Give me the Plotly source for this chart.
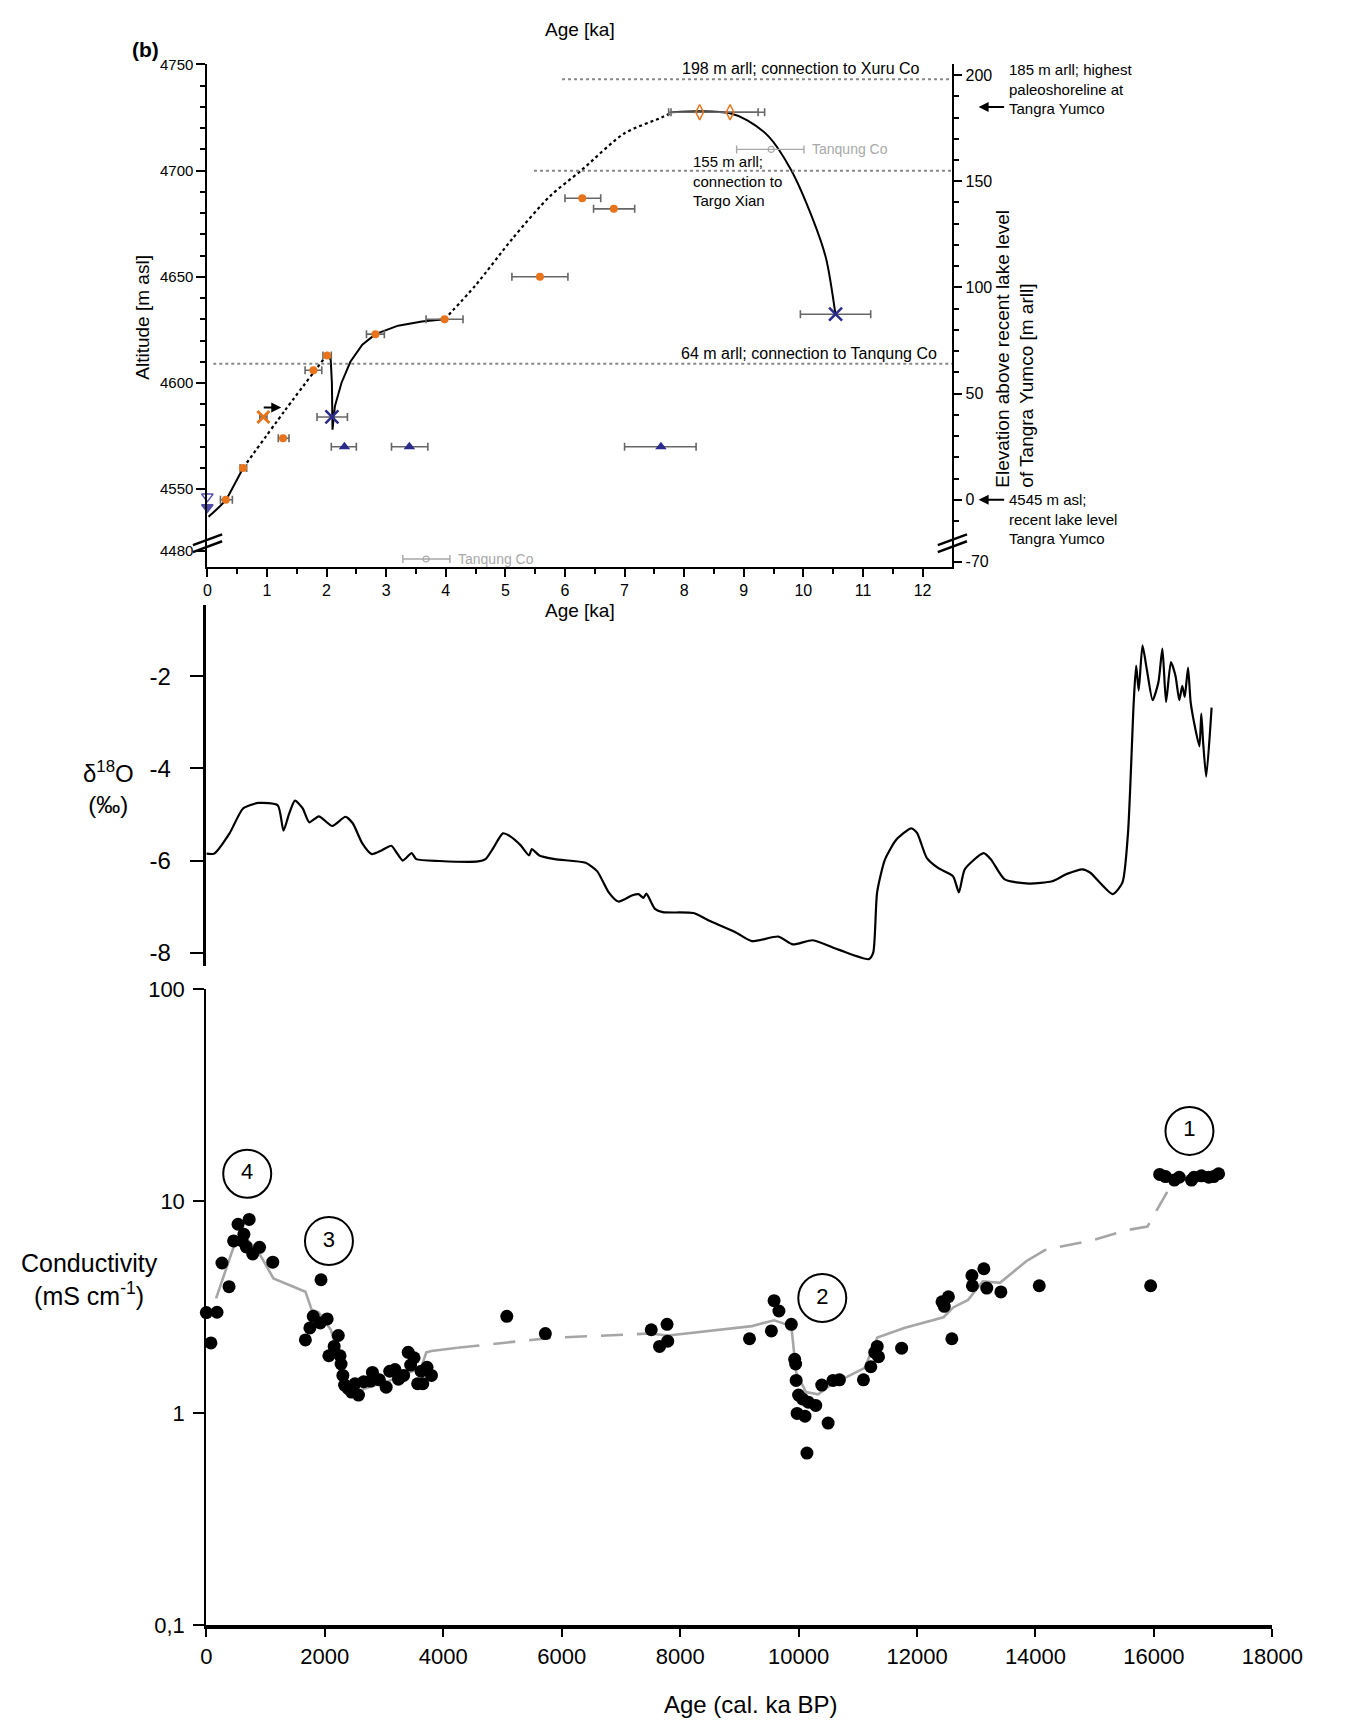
import plotly.graph_objects as go

W, H = 1352, 1733
FONT = "Liberation Sans, Arial, sans-serif"

# ---------------- (b) lake-level panel data ----------------
LAKE_LEVEL = 4545          # recent lake level, m asl (0 m arll)
BREAK_SHIFT = 40.8         # values below the axis break are drawn shifted up by this amount

orange_age = [0.31, 0.60, 1.27, 1.78, 2.01, 2.82, 3.98, 5.58, 6.29, 6.82]
orange_alt = [4545, 4560, 4574, 4606, 4613, 4623, 4630, 4650, 4687, 4682]
orange_lo = [0.22, 0.55, 1.19, 1.64, 1.94, 2.67, 3.67, 5.11, 6.00, 6.48]
orange_hi = [0.42, 0.66, 1.37, 1.92, 2.08, 2.97, 4.29, 6.05, 6.60, 7.17]

orangex_age = [0.94]
orangex_alt = [4584]
orangex_lo = [0.88]
orangex_hi = [1.00]

orange_open_age = [8.26, 8.77]
orange_open_alt = [4727.5, 4727.5]
orange_open_lo = [7.74, 7.78]
orange_open_hi = [9.24, 9.35]

bluex_age = [2.09, 10.54]
bluex_alt = [4584, 4632.4]
bluex_lo = [1.84, 9.95]
bluex_hi = [2.35, 11.13]

bluetri_age = [2.30, 3.39, 7.61]
bluetri_alt = [4570, 4570, 4570]
bluetri_lo = [2.08, 3.09, 7.00]
bluetri_hi = [2.50, 3.70, 8.20]

bluedown_age = [0.0, 0.0]
bluedown_alt = [4546.5, 4541.5]

tanqung_age = [3.67, 9.46]
tanqung_alt = [4476.3, 4710]
tanqung_lo = [3.28, 8.88]
tanqung_hi = [4.07, 10.01]

solid1_age = [0.02, 0.10, 0.31, 0.45, 0.60]
solid1_alt = [4537, 4539, 4545, 4552, 4560]
dotted1_age = [0.60, 1.30, 2.00]
dotted1_alt = [4560, 4587, 4613]
solid2_age = [2.01, 2.07, 2.09, 2.10, 2.14, 2.25, 2.40, 2.60, 2.82, 3.20, 3.60, 3.98]
solid2_alt = [4613, 4611, 4600, 4578, 4589, 4600, 4610, 4618, 4623, 4627, 4629, 4630]
dotted2_age = [3.98, 4.50, 5.12, 5.75, 6.27, 7.00, 7.62, 7.80]
dotted2_alt = [4630, 4646, 4668, 4688, 4700, 4717.6, 4725, 4727.5]
solid3_age = [7.80, 8.30, 8.77, 9.06, 9.42, 9.79, 10.16, 10.38, 10.54]
solid3_alt = [4727.5, 4728, 4727, 4723.7, 4716, 4700.5, 4677, 4658.7, 4632]

level_arll = [198, 155, 64]
level_start = [5.95, 5.48, 0.10]
level_text = ["198 m arll; connection to Xuru Co",
              "155 m arll;<br>connection to<br>Targo Xian",
              "64 m arll; connection to Tanqung Co"]

alt_ticks = [4480, 4550, 4600, 4650, 4700, 4750]
arll_ticks = [-70, 0, 50, 100, 150, 200]
age_ka_ticks = list(range(0, 13))

# ---------------- δ18O panel data ----------------
d18_age = [0, 131, 391, 620, 880, 1205, 1302, 1398, 1496, 1627, 1737, 1900, 2127, 2348, 2472,
           2630, 2794, 2959, 3123, 3219, 3317, 3467, 3544, 3934, 4586, 4714, 4844, 5007, 5137,
           5300, 5450, 5494, 5622, 5885, 6404, 6598, 6794, 6956, 7183, 7299, 7380, 7430, 7575,
           7705, 8224, 8482, 8926, 9210, 9659, 9904, 10238, 10685, 11186, 11260, 11326, 11458,
           11649, 11902, 12000, 12164, 12355, 12608, 12707, 12806, 13124, 13250, 13480, 13891,
           14280, 14532, 14794, 14921, 15304, 15468, 15562, 15659, 15700, 15743, 15807, 15880,
           15978, 16076, 16143, 16205, 16287, 16364, 16428, 16479, 16520, 16576, 16620, 16685,
           16768, 16800, 16830, 16883, 16974]
d18_val = [-5.85, -5.85, -5.41, -4.87, -4.75, -4.80, -5.35, -4.98, -4.70, -4.87, -5.17, -5.04,
           -5.25, -5.05, -5.19, -5.62, -5.86, -5.78, -5.68, -5.84, -6.00, -5.84, -5.97, -6.01,
           -6.02, -5.97, -5.73, -5.41, -5.48, -5.66, -5.89, -5.75, -5.89, -5.97, -6.05, -6.23,
           -6.69, -6.89, -6.76, -6.73, -6.81, -6.72, -7.05, -7.12, -7.14, -7.30, -7.55, -7.75,
           -7.65, -7.82, -7.73, -7.94, -8.14, -8.00, -6.69, -5.98, -5.55, -5.30, -5.40, -5.94,
           -6.16, -6.34, -6.69, -6.19, -5.84, -5.98, -6.41, -6.50, -6.45, -6.29, -6.19, -6.26,
           -6.73, -6.48, -5.41, -2.56, -1.77, -2.31, -1.33, -1.85, -2.52, -2.13, -1.40, -2.56,
           -1.69, -1.99, -2.52, -2.21, -2.45, -1.81, -2.56, -3.05, -3.52, -2.81, -3.42, -4.18,
           -2.68]
d18_ticks = [-2, -4, -6, -8]

# ---------------- conductivity panel data ----------------
cond_age = [0, 77, 180, 263, 383, 460, 535, 605, 634, 674, 723, 782, 898, 1121,
            1672, 1748, 1805, 1923, 1936, 2040, 2068, 2158, 2228, 2258, 2275, 2305, 2334, 2393,
            2452, 2510, 2569, 2657, 2774, 2804, 2922, 3036, 3096, 3185, 3244, 3331, 3408, 3449,
            3507, 3567, 3626, 3655, 3726, 3801, 5073, 5724, 7512, 7652, 7779, 7790, 9171, 9541,
            9586, 9668, 9877, 9934, 9950, 9959, 9975, 10000, 10066, 10108, 10141, 10164, 10290,
            10391, 10499, 10581, 10690, 11095, 11220, 11286, 11328, 11350, 11740, 12422, 12460,
            12530, 12588, 12927, 12935, 13128, 13177, 13416, 14064, 15945, 16097, 16196, 16345,
            16428, 16634, 16676, 16801, 16926, 17008, 17092]
cond_val = [2.99, 2.15, 3.0, 5.12, 3.96, 6.51, 7.80, 6.51, 7.0, 6.1, 8.22, 5.65, 6.07, 5.17,
            2.22, 2.53, 2.87, 2.67, 4.27, 2.79, 1.87, 2.07, 2.33, 1.87, 1.71, 1.51, 1.36, 1.31,
            1.26, 1.38, 1.22, 1.41, 1.42, 1.56, 1.44, 1.33, 1.58, 1.61, 1.45, 1.51, 1.94, 1.69,
            1.83, 1.38, 1.58, 1.38, 1.65, 1.51, 2.87, 2.38, 2.48, 2.07, 2.63, 2.19, 2.25, 2.45,
            3.40, 3.04, 2.63, 1.80, 1.71, 1.43, 1.00, 1.22, 1.17, 0.97, 0.65, 1.13, 1.09,
            1.36, 0.90, 1.43, 1.44, 1.44, 1.66, 1.94, 2.07, 1.85, 2.03, 3.36, 3.20,
            3.55, 2.25, 4.47, 4.00, 4.81, 3.90, 3.74, 4.00, 4.00, 13.4, 13.1, 12.6,
            13.0, 12.6, 13.0, 13.2, 13.0, 13.1, 13.5]

# running trend: solid and dashed pieces
trend_solid = [
    ([164, 458, 664, 898, 1133, 1673, 1778, 1895, 2102, 2248, 2424, 2570, 3069, 3626, 3713, 3801, 4241],
     [3.49, 6.07, 6.76, 5.65, 4.33, 3.75, 3.08, 3.00, 2.48, 1.80, 1.33, 1.28, 1.42, 1.64, 1.94, 1.97, 2.04]),
    ([7471, 7800, 9212, 9586, 9877, 9918, 9959, 10125, 10329, 10542, 11117, 11330, 11783, 12446,
      12611, 12862, 13110, 13400, 13860],
     [2.38, 2.33, 2.58, 2.75, 2.58, 1.97, 1.56, 1.26, 1.23, 1.36, 1.64, 2.28, 2.53, 2.84,
      3.16, 3.43, 4.20, 4.13, 5.26]),
]
trend_dashed = [
    ([4241, 5813, 7471], [2.04, 2.27, 2.38]),
    ([13860, 14190, 14940, 15520, 15890, 16010, 16260, 16330], [5.26, 5.95, 6.53, 7.30, 7.60, 8.70, 11.5, 12.5]),
]

phase_label = ["4", "3", "2", "1"]
phase_age = [690, 2070, 10400, 16600]
phase_val = [13.5, 6.5, 3.5, 21.5]

cond_tickvals = [0.1, 1, 10, 100]
cond_ticktext = ["0,1", "1", "10", "100"]
age_ticks = list(range(0, 18001, 2000))

# ---------------- helpers ----------------
def brk(v):
    return v + BREAK_SHIFT if v < 4500 else v

ORANGE = "#E8731A"
BLUE = "#2B2B8C"
ERR = "#666666"
GRAYT = "#A8A8A8"

def errx(x, lo, hi, color=ERR, thick=1.6, width=4):
    return dict(type="data", symmetric=False,
                array=[h - a for a, h in zip(x, hi)],
                arrayminus=[a - l for a, l in zip(x, lo)],
                color=color, thickness=thick, width=width)

fig = go.Figure()

# --- top panel curves
def top_line(x, y, dash, shape="spline"):
    fig.add_trace(go.Scatter(x=x, y=y, mode="lines", xaxis="x", yaxis="y",
                             line=dict(color="black", width=2 if dash == "solid" else 2.2,
                                       dash=dash, shape=shape, smoothing=0.8),
                             hoverinfo="skip", showlegend=False))

top_line(solid1_age, solid1_alt, "solid")
top_line(dotted1_age, dotted1_alt, "dot")
top_line(solid2_age, solid2_alt, "solid", shape="linear")
top_line(dotted2_age, dotted2_alt, "dot")
top_line(solid3_age, solid3_alt, "solid")

# reference levels (in m arll, right axis)
for lv, st in zip(level_arll, level_start):
    fig.add_trace(go.Scatter(x=[st, 12.5], y=[lv, lv], mode="lines", xaxis="x", yaxis="y2",
                             line=dict(color="#888888", width=2, dash="dot"),
                             hoverinfo="skip", showlegend=False))

# gray Tanqung Co
fig.add_trace(go.Scatter(x=tanqung_age, y=[brk(v) for v in tanqung_alt], mode="markers",
                         xaxis="x", yaxis="y", cliponaxis=False,
                         marker=dict(symbol="circle-open", size=6, color=GRAYT, line=dict(width=1.2)),
                         error_x=errx(tanqung_age, tanqung_lo, tanqung_hi, color=GRAYT, thick=1.4),
                         showlegend=False))

# markers
fig.add_trace(go.Scatter(x=bluetri_age, y=bluetri_alt, mode="markers", xaxis="x", yaxis="y",
                         marker=dict(symbol="triangle-up", size=10, color=BLUE),
                         error_x=errx(bluetri_age, bluetri_lo, bluetri_hi), showlegend=False))
fig.add_trace(go.Scatter(x=bluex_age, y=bluex_alt, mode="markers", xaxis="x", yaxis="y",
                         marker=dict(symbol="x-thin", size=13, color=BLUE, line=dict(width=2.5, color=BLUE)),
                         error_x=errx(bluex_age, bluex_lo, bluex_hi), showlegend=False))
fig.add_trace(go.Scatter(x=orange_open_age, y=orange_open_alt, mode="markers", xaxis="x", yaxis="y",
                         marker=dict(symbol="diamond-tall-open", size=11, color=ORANGE, line=dict(width=1.5)),
                         error_x=errx(orange_open_age, orange_open_lo, orange_open_hi), showlegend=False))
fig.add_trace(go.Scatter(x=orange_age, y=orange_alt, mode="markers", xaxis="x", yaxis="y",
                         marker=dict(symbol="circle", size=8, color=ORANGE),
                         error_x=errx(orange_age, orange_lo, orange_hi), showlegend=False))
fig.add_trace(go.Scatter(x=orangex_age, y=orangex_alt, mode="markers", xaxis="x", yaxis="y",
                         marker=dict(symbol="x-thin", size=12, color=ORANGE, line=dict(width=3, color=ORANGE)),
                         error_x=errx(orangex_age, orangex_lo, orangex_hi), showlegend=False))
fig.add_trace(go.Scatter(x=bluedown_age, y=bluedown_alt, mode="markers", xaxis="x", yaxis="y",
                         cliponaxis=False,
                         marker=dict(symbol=["triangle-down-open", "triangle-down"], size=10,
                                     color="#5050A8", line=dict(width=1.5, color="#5050A8")),
                         showlegend=False))

# --- δ18O
fig.add_trace(go.Scatter(x=d18_age, y=d18_val, mode="lines", xaxis="x2", yaxis="y3",
                         line=dict(color="black", width=2.2, shape="spline", smoothing=0.6),
                         showlegend=False))

# --- conductivity
for xs, ys in trend_solid:
    fig.add_trace(go.Scatter(x=xs, y=ys, mode="lines", xaxis="x3", yaxis="y4",
                             line=dict(color="#A6A6A6", width=2.6), showlegend=False))
for xs, ys in trend_dashed:
    fig.add_trace(go.Scatter(x=xs, y=ys, mode="lines", xaxis="x3", yaxis="y4",
                             line=dict(color="#A6A6A6", width=2.6, dash="22px,14px"), showlegend=False))
fig.add_trace(go.Scatter(x=cond_age, y=cond_val, mode="markers", xaxis="x3", yaxis="y4",
                         cliponaxis=False,
                         marker=dict(symbol="circle", size=13, color="black"), showlegend=False))
fig.add_trace(go.Scatter(x=phase_age, y=phase_val, mode="markers+text", xaxis="x3", yaxis="y4",
                         text=phase_label, textposition="middle center",
                         textfont=dict(family=FONT, size=22, color="black"),
                         marker=dict(symbol="circle-open", size=48, color="black", line=dict(width=2)),
                         showlegend=False))

# ---------------- axes ----------------
def px(p):
    return p / W

def py(p):
    return 1 - p / H

top_y_range = [4513.4, 4750.1]
axis_common = dict(showline=True, linecolor="black", showgrid=False, zeroline=False,
                   ticks="outside", tickcolor="black")

fig.update_layout(
    width=W, height=H, margin=dict(l=0, r=0, t=0, b=0),
    paper_bgcolor="white", plot_bgcolor="white",
    font=dict(family=FONT, color="black"),
    showlegend=False,
    xaxis=dict(**axis_common, domain=[px(207), px(973)], anchor="y", range=[0, 12.5],
               tickvals=age_ka_ticks, ticklen=8, tickwidth=1.5, linewidth=2,
               tickfont=dict(size=16),
               minor=dict(tickmode="array", tickvals=[t + 0.5 for t in age_ka_ticks[:-1]],
                          ticks="outside", ticklen=5, tickwidth=1.5, tickcolor="black")),
    yaxis=dict(**axis_common, domain=[py(563), py(53)], anchor="x", range=top_y_range,
               tickvals=[brk(v) for v in alt_ticks], ticktext=[str(v) for v in alt_ticks],
               ticklen=9, tickwidth=1.5, linewidth=2, tickfont=dict(size=15),
               minor=dict(tickmode="array", tickvals=list(range(4560, 4750, 10)),
                          ticks="outside", ticklen=5, tickwidth=1.5, tickcolor="black")),
    yaxis2=dict(**axis_common, overlaying="y", side="right", anchor="x",
                range=[top_y_range[0] - LAKE_LEVEL, top_y_range[1] - LAKE_LEVEL],
                tickvals=[brk(LAKE_LEVEL + v) - LAKE_LEVEL for v in arll_ticks],
                ticktext=[str(v) for v in arll_ticks],
                ticklen=8, tickwidth=1.5, linewidth=2, tickfont=dict(size=16),
                minor=dict(tickmode="array", tickvals=list(range(-10, 200, 10)),
                           ticks="outside", ticklen=5, tickwidth=1.5, tickcolor="black")),
    xaxis2=dict(domain=[px(206), px(1302)], anchor="y3", range=[0, 18000], visible=False),
    yaxis3=dict(**axis_common, domain=[py(968), py(602)], anchor="x2", range=[-8.29, -0.46],
                tickvals=d18_ticks, ticktext=[str(v) for v in d18_ticks],
                ticklen=14, tickwidth=2, linewidth=2.5, tickfont=dict(size=24),
                ticklabelstandoff=14),
    xaxis3=dict(**axis_common, domain=[px(206), px(1302)], anchor="y4", range=[0, 18000],
                tickvals=age_ticks, ticktext=[str(v) for v in age_ticks],
                ticklen=8, tickwidth=2, linewidth=4, tickfont=dict(size=22)),
    yaxis4=dict(**axis_common, type="log", domain=[py(1637), py(991.7)], anchor="x3",
                range=[-1, 2], tickvals=cond_tickvals, ticktext=cond_ticktext,
                ticklen=11, tickwidth=2, linewidth=2.2, tickfont=dict(size=22),
                ticklabelstandoff=4),
)

ann = []
# in-plot labels, top panel
ann.append(dict(x=11.99, y=LAKE_LEVEL + level_arll[0], xref="x", yref="y", text=level_text[0],
                xanchor="right", yanchor="bottom", showarrow=False, font=dict(size=16)))
ann.append(dict(x=8.12, y=LAKE_LEVEL + level_arll[1], xref="x", yref="y", text=level_text[1],
                xanchor="left", yanchor="middle", align="left", yshift=-10, showarrow=False,
                font=dict(size=15)))
ann.append(dict(x=12.28, y=LAKE_LEVEL + level_arll[2], xref="x", yref="y", text=level_text[2],
                xanchor="right", yanchor="bottom", showarrow=False, font=dict(size=16)))
ann.append(dict(x=tanqung_hi[1], y=brk(tanqung_alt[1]), xref="x", yref="y", text="Tanqung Co",
                xanchor="left", yanchor="middle", xshift=6, showarrow=False,
                font=dict(size=14, color=GRAYT)))
ann.append(dict(x=tanqung_hi[0], y=brk(tanqung_alt[0]), xref="x", yref="y", text="Tanqung Co",
                xanchor="left", yanchor="middle", xshift=6, showarrow=False,
                font=dict(size=14, color=GRAYT)))
# small black arrow near 1 ka
ann.append(dict(x=1.24, y=4588.5, xref="x", yref="y", ax=-19, ay=0, text="", showarrow=True,
                arrowhead=2, arrowsize=1, arrowwidth=2, arrowcolor="black"))
# right side notes
ann.append(dict(x=px(1000), y=185, xref="paper", yref="y2", ax=27, ay=0, text="", showarrow=True,
                arrowhead=2, arrowsize=1, arrowwidth=2, arrowcolor="black"))
ann.append(dict(x=px(1000), y=0, xref="paper", yref="y2", ax=27, ay=0, text="", showarrow=True,
                arrowhead=2, arrowsize=1, arrowwidth=2, arrowcolor="black"))


def paper_text(x, y, text, size, **kw):
    d = dict(x=px(x), y=py(y), xref="paper", yref="paper", text=text, showarrow=False,
             xanchor=kw.pop("xanchor", "center"), yanchor=kw.pop("yanchor", "middle"),
             font=dict(size=size))
    d.update(kw)
    ann.append(d)


paper_text(1029, 78, "185 m arll; highest<br>paleoshoreline at<br>Tangra Yumco", 15,
           xanchor="left", align="left")
paper_text(1029, 514, "4545 m asl;<br>recent lake level<br>Tangra Yumco", 15,
           xanchor="left", align="left")
paper_text(590, 18, "Age [ka]", 19)
paper_text(590, 607, "Age [ka]", 19)
paper_text(140, 310, "Altitude [m asl]", 19, textangle=-90)
paper_text(1037, 342, "Elevation above recent lake level<br>of Tangra Yumco [m arll]", 19,
           textangle=-90, align="left")
paper_text(143, 38, "<b>(b)</b>", 21)
paper_text(105, 787, "δ<sup>18</sup>O<br>(‰)", 24)
paper_text(86, 1286, "Conductivity<br>(mS cm<sup>-1</sup>)", 25)
paper_text(765, 1717, "Age (cal. ka BP)", 24)

# axis-break marks
shapes = []
for cx in (207.2, 973):
    for dy in (0, 7):
        shapes.append(dict(type="line", xref="paper", yref="paper",
                           x0=px(cx - 15), y0=py(541 + dy), x1=px(cx + 15), y1=py(530 + dy),
                           line=dict(color="black", width=2.5)))

fig.update_layout(annotations=ann, shapes=shapes)

fig.write_html("out.html", config={"displayModeBar": False},
               post_script="document.body.style.margin='0';document.body.style.overflow='hidden';")
